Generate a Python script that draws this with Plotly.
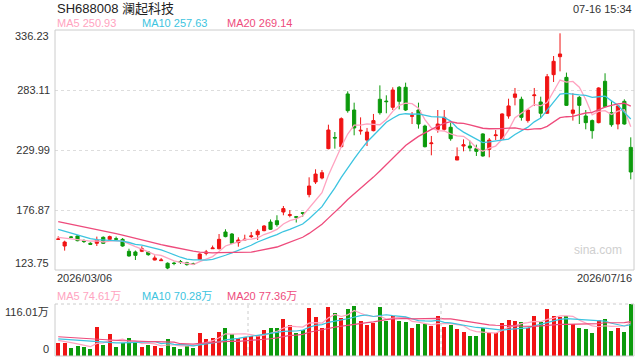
import plotly.graph_objects as go

# ---------------- data ----------------
title_text = "SH688008 澜起科技"
time_text = "07-16 15:34"
date_first = "2026/03/06"
date_last = "2026/07/16"
price_ticks = [123.75, 176.87, 229.99, 283.11, 336.23]
vol_max = 116.01

opens = [150.9, 145.0, 153.0, 153.9, 149.9, 147.4, 147.4, 152.7, 150.9, 151.5,
         150.9, 140.3, 139.7, 140.3, 139.7, 132.6, 132.0, 129.7, 129.9, 131.2,
         130.2, 129.4, 133.2, 138.5, 142.6, 142.6, 157.4, 155.6, 148.0, 150.3,
         153.3, 155.0, 158.6, 166.2, 167.4, 175.1, 172.1, 171.0, 174.5, 190.5,
         201.7, 205.2, 231.2, 241.1, 232.9, 279.6, 265.4, 246.8, 238.8, 247.1,
         274.9, 273.3, 267.8, 285.5, 285.5, 259.8, 265.4, 251.2, 235.6, 248.3,
         248.3, 250.1, 221.1, 233.5, 233.5, 231.2, 244.2, 230.6, 242.7, 239.4,
         260.1, 276.6, 274.9, 256.0, 278.1, 272.5, 262.5, 296.7, 312.6, 294.3,
         262.5, 276.6, 260.1, 256.0, 254.2, 290.8, 263.0, 253.0, 273.1, 232.3]
highs = [153.6, 149.7, 153.9, 154.4, 150.8, 148.3, 153.3, 153.5, 154.2, 153.3,
         152.0, 142.6, 141.0, 144.8, 140.5, 136.7, 134.3, 130.5, 131.0, 132.6,
         131.0, 130.2, 138.5, 141.5, 145.4, 155.6, 159.8, 156.5, 152.7, 155.0,
         157.4, 159.8, 163.5, 168.5, 172.2, 180.4, 176.8, 171.6, 175.1, 205.8,
         212.9, 212.3, 252.4, 245.9, 258.9, 281.9, 271.9, 258.9, 249.5, 261.9,
         287.2, 278.4, 285.5, 286.6, 289.6, 263.6, 271.9, 252.4, 242.4, 265.4,
         265.4, 254.2, 232.3, 239.4, 238.2, 234.7, 244.8, 240.6, 247.7, 262.5,
         275.4, 284.9, 277.2, 266.0, 284.9, 277.2, 297.3, 313.2, 333.3, 298.5,
         280.2, 277.8, 265.4, 257.0, 285.5, 297.9, 273.7, 269.3, 274.9, 241.2]
lows = [150.6, 140.9, 152.3, 149.2, 147.7, 145.9, 145.0, 146.8, 150.3, 149.7,
        144.4, 135.5, 132.6, 139.6, 136.4, 132.3, 132.0, 124.4, 128.0, 129.1,
        127.6, 128.3, 132.6, 136.7, 142.6, 142.0, 152.7, 146.8, 144.4, 150.3,
        152.1, 150.3, 158.0, 159.2, 162.1, 172.2, 170.4, 165.8, 170.9, 188.1,
        199.9, 204.0, 230.6, 231.2, 232.3, 263.0, 243.0, 243.6, 233.5, 246.5,
        261.3, 262.5, 265.4, 266.0, 264.6, 253.0, 248.9, 232.3, 225.3, 245.3,
        247.1, 238.2, 221.1, 228.8, 228.8, 224.7, 224.1, 223.5, 238.8, 239.0,
        257.7, 269.5, 256.0, 254.2, 268.9, 258.3, 262.0, 290.2, 299.6, 269.0,
        256.0, 253.0, 248.3, 240.0, 253.6, 267.8, 250.6, 248.3, 252.4, 204.0]
closes = [151.1, 148.5, 152.7, 149.7, 148.9, 146.5, 150.3, 147.4, 153.3, 151.0,
          145.0, 136.2, 136.7, 142.6, 137.3, 134.4, 132.6, 125.5, 129.5, 130.7,
          128.5, 128.9, 137.9, 139.7, 143.2, 150.9, 153.3, 147.4, 150.3, 150.9,
          153.9, 158.0, 162.7, 159.8, 163.9, 178.1, 172.7, 170.4, 173.9, 198.1,
          208.7, 209.9, 247.7, 240.6, 257.7, 264.8, 249.5, 247.4, 245.9, 256.0,
          263.0, 272.8, 283.1, 273.1, 265.4, 260.4, 253.0, 232.9, 236.2, 253.0,
          258.9, 240.0, 224.1, 234.6, 231.8, 228.8, 224.7, 238.8, 243.3, 261.9,
          269.0, 279.6, 258.9, 265.4, 278.7, 262.5, 294.9, 308.5, 315.0, 269.5,
          265.4, 269.5, 254.2, 247.1, 284.9, 268.4, 252.4, 269.0, 253.0, 210.5]
# volume in 万
volumes = [30, 28, 18, 22, 20, 16, 64.0, 25, 49.1, 20,
           30, 39.5, 28, 20, 25, 22, 18, 37.9, 20, 16,
           22, 18, 52.0, 38.6, 40.2, 54.2, 62.5, 49.1, 39.5, 43.1,
           44.6, 46.2, 58.0, 62.5, 62.5, 82.5, 68.5, 50.6, 58.0, 107.1,
           87.7, 62.5, 110.0, 95.9, 84.8, 105.5, 112.2, 78.8, 69.8, 74.3,
           110.0, 78.8, 89.2, 78.8, 75.9, 62.5, 71.4, 71.4, 66.9, 89.2,
           65.4, 69.2, 60.2, 53.5, 44.6, 44.6, 62.5, 52.0, 52.0, 74.3,
           80.3, 78.1, 75.9, 63.1, 89.2, 75.9, 104.9, 89.2, 87.7, 89.2,
           71.4, 62.5, 60.2, 52.0, 80.3, 82.5, 55.8, 62.5, 53.5, 116.01]

ma5_head = [152.7, 152.0, 151.4, 150.8]
ma10_head = [159.7, 158.0, 156.3, 154.7, 153.0, 151.5, 150.7, 150.3, 150.0]
ma20_head = [166.5, 165.4, 164.3, 163.2, 162.1, 161.0, 159.7, 158.5, 157.2, 156.0,
             154.7, 153.2, 151.8, 150.3, 148.8, 147.5, 146.2, 145.0, 143.8]
vma5_head = [35, 33, 30, 27]
vma10_head = [38, 37, 36, 34, 33, 32, 31, 30, 30]
vma20_head = [43, 42, 41, 40, 39, 38, 37, 36, 35, 35,
              34, 34, 33, 33, 32, 32, 32, 31, 31]

ma_labels = ["MA5 250.93", "MA10 257.63", "MA20 269.14"]
vma_labels = ["MA5 74.61万", "MA10 70.28万", "MA20 77.36万"]


def moving_avg(vals, n, head):
    out = list(head)
    for i in range(n - 1, len(vals)):
        out.append(sum(vals[i - n + 1:i + 1]) / n)
    return out


# ---------------- style ----------------
RED = "#f01414"
GREEN = "#0c9a0c"
C_MA5 = "#ffa3c0"
C_MA10 = "#3cc4e0"
C_MA20 = "#ee4b7c"
FONT = "Liberation Sans, Arial, Noto Sans CJK SC, sans-serif"

W, H = 640, 360
L, R, T, B = 55, 6, 30, 4
plot_h = H - T - B


def py(y):
    return (H - B - y) / plot_h


def px(x):
    return (x - L) / (W - L - R)


price_dom = [py(270), 1.0]
vol_dom = [0.0, py(304)]

n = len(closes)
xs = list(range(n))

fig = go.Figure()
fig.add_trace(go.Candlestick(
    x=xs, open=opens, high=highs, low=lows, close=closes,
    increasing=dict(line=dict(color=RED, width=1), fillcolor=RED),
    decreasing=dict(line=dict(color=GREEN, width=1), fillcolor=GREEN),
    whiskerwidth=0, xaxis="x", yaxis="y", hoverinfo="skip", showlegend=False))

for vals, head, nn, col in [(closes, ma5_head, 5, C_MA5), (closes, ma10_head, 10, C_MA10),
                            (closes, ma20_head, 20, C_MA20)]:
    fig.add_trace(go.Scatter(x=xs, y=moving_avg(vals, nn, head), mode="lines",
                             line=dict(color=col, width=1.3), xaxis="x", yaxis="y",
                             hoverinfo="skip", showlegend=False))

vcolors = [RED if c >= o else GREEN for o, c in zip(opens, closes)]
fig.add_trace(go.Bar(x=xs, y=volumes, marker=dict(color=vcolors, line=dict(width=0)),
                     width=0.62, xaxis="x2", yaxis="y2", hoverinfo="skip", showlegend=False))
for head, nn, col in [(vma5_head, 5, C_MA5), (vma10_head, 10, C_MA10), (vma20_head, 20, C_MA20)]:
    fig.add_trace(go.Scatter(x=xs, y=moving_avg(volumes, nn, head), mode="lines",
                             line=dict(color=col, width=1.2), xaxis="x2", yaxis="y2",
                             hoverinfo="skip", showlegend=False))

xr = [-0.5, n - 0.5]
fig.update_layout(
    width=W, height=H, margin=dict(l=L, r=R, t=T, b=B),
    paper_bgcolor="white", plot_bgcolor="white",
    font=dict(family=FONT, size=11, color="#333"),
    bargap=0,
    xaxis=dict(domain=[0, 1], range=xr, showticklabels=False, showgrid=False, zeroline=False,
               rangeslider=dict(visible=False), anchor="y", fixedrange=True),
    yaxis=dict(domain=price_dom, range=[price_ticks[0], price_ticks[-1]],
               tickvals=price_ticks[1:-1], ticktext=["%.2f" % v for v in price_ticks[1:-1]],
               showgrid=True, gridcolor="#dddddd", griddash="dot", gridwidth=1,
               zeroline=False, ticks="", ticklabelstandoff=4,
               tickfont=dict(size=11, color="#333")),
    xaxis2=dict(domain=[0, 1], range=xr, showticklabels=False, showgrid=False, zeroline=False,
                anchor="y2", matches="x"),
    yaxis2=dict(domain=vol_dom, range=[0, vol_max], showticklabels=False, showgrid=False,
                zeroline=False),
)

shapes = []
# price frame
shapes.append(dict(type="rect", xref="paper", yref="paper", x0=0, x1=1,
                   y0=price_dom[0], y1=price_dom[1], line=dict(color="#cccccc", width=1)))
# volume frame
for (x0, y0, x1, y1, dash) in [(0, 0, 0, vol_dom[1], "solid"), (1, 0, 1, vol_dom[1], "solid"),
                               (0, 0, 1, 0, "solid"), (0, vol_dom[1], 1, vol_dom[1], "dot"),
                               (1 / 3, 0, 1 / 3, vol_dom[1], "dot"),
                               (2 / 3, 0, 2 / 3, vol_dom[1], "dot")]:
    shapes.append(dict(type="line", xref="paper", yref="paper", x0=x0, y0=y0, x1=x1, y1=y1,
                       line=dict(color="#cccccc", width=1, dash=dash)))
fig.update_layout(shapes=shapes)

ann = []


def text(x, y, s, xa="left", color="#333", size=11):
    ann.append(dict(x=px(x), y=py(y), xref="paper", yref="paper", text=s, showarrow=False,
                    xanchor=xa, yanchor="middle", font=dict(size=size, color=color, family=FONT)))


text(55, 9, title_text, size=13, color="#222")
text(634, 9, time_text, xa="right", size=11)
for xpos, s, c in zip([55, 140, 225], ma_labels, [C_MA5, C_MA10, C_MA20]):
    text(xpos, 23, s, color=c)
for xpos, s, c in zip([55, 140, 225], vma_labels, [C_MA5, C_MA10, C_MA20]):
    text(xpos, 296, s, color=c)
text(51, 36, "%.2f" % price_ticks[-1], xa="right")
text(51, 263, "%.2f" % price_ticks[0], xa="right")
text(55, 278, date_first)
text(634, 278, date_last, xa="right")
text(51, 312, "%.2f万" % vol_max, xa="right")
text(51, 349, "0", xa="right")
text(598, 250, "sina.com", xa="center", color="#cfcfcf", size=12)
fig.update_layout(annotations=ann)

fig.write_html("out.html")
